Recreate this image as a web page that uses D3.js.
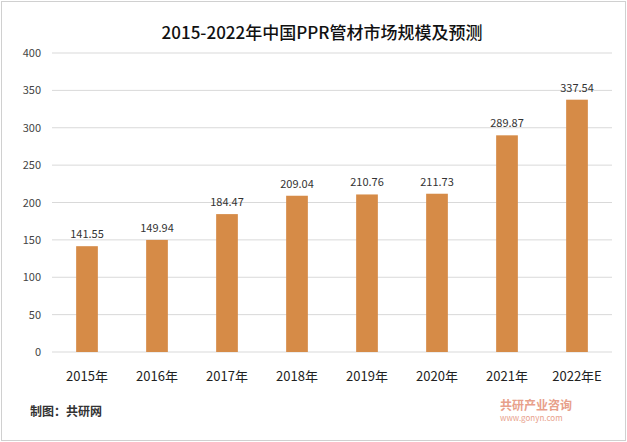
<!DOCTYPE html>
<html><head><meta charset="utf-8">
<script src="https://cdn.jsdelivr.net/npm/d3@7"></script>
<style>body{margin:0;background:#fff;font-family:"Noto Sans CJK SC","Noto Sans",sans-serif}</style>
</head><body><div id="chart"></div>
<script>
const years = ["2015年","2016年","2017年","2018年","2019年","2020年","2021年","2022年E"];
const values = [141.55,149.94,184.47,209.04,210.76,211.73,289.87,337.54];
const yTicks = [0,50,100,150,200,250,300,350,400];
const width = 627, height = 442;

const svg = d3.select("#chart").append("svg")
    .attr("width", width).attr("height", height);

svg.append("rect").attr("x", 1.5).attr("y", 1.5)
    .attr("width", width - 3).attr("height", height - 3)
    .attr("fill", "#fff").attr("stroke", "#d0d0d0");

svg.append("text").attr("x", 322).attr("y", 39)
    .attr("text-anchor", "middle").attr("font-size", 17).attr("font-weight", 500)
    .attr("fill", "#111").text("2015-2022年中国PPR管材市场规模及预测");

const x = d3.scaleBand().domain(years).range([52, 612]).paddingInner(0.69).paddingOuter(0.345);
const y = d3.scaleLinear().domain([0, 400]).range([352, 53]);

const grid = svg.append("g");
grid.selectAll("line").data(yTicks).enter().append("line")
    .attr("x1", 52).attr("x2", 612)
    .attr("y1", d => y(d)).attr("y2", d => y(d))
    .attr("stroke", "#d9d9d9");

svg.append("g").selectAll("text").data(yTicks).enter().append("text")
    .attr("x", 41).attr("y", d => y(d) + 4)
    .attr("text-anchor", "end").attr("font-size", 11).attr("fill", "#444")
    .text(d => d);

svg.append("g").selectAll("rect").data(values).enter().append("rect")
    .attr("x", (d, i) => x(years[i]))
    .attr("width", x.bandwidth())
    .attr("y", d => y(d)).attr("height", d => y(0) - y(d))
    .attr("fill", "#D68B47");

svg.append("g").selectAll("text").data(values).enter().append("text")
    .attr("x", (d, i) => x(years[i]) + x.bandwidth() / 2)
    .attr("y", d => y(d) - 8)
    .attr("text-anchor", "middle").attr("font-size", 11).attr("fill", "#333")
    .text(d => d.toFixed(2));

svg.append("g").selectAll("text").data(years).enter().append("text")
    .attr("x", d => x(d) + x.bandwidth() / 2).attr("y", 381)
    .attr("text-anchor", "middle").attr("font-size", 13).attr("fill", "#222")
    .text(d => d);

svg.append("text").attr("x", 30).attr("y", 416)
    .attr("font-size", 12).attr("font-weight", "bold").attr("fill", "#333")
    .text("制图：共研网");

svg.append("text").attr("x", 500).attr("y", 410)
    .attr("font-size", 12).attr("font-weight", "bold").attr("fill", "#e8a08a")
    .text("共研产业咨询");
svg.append("text").attr("x", 500).attr("y", 421)
    .attr("font-size", 8).attr("fill", "#e8a08a")
    .text("www.gonyn.com");
</script></body></html>
